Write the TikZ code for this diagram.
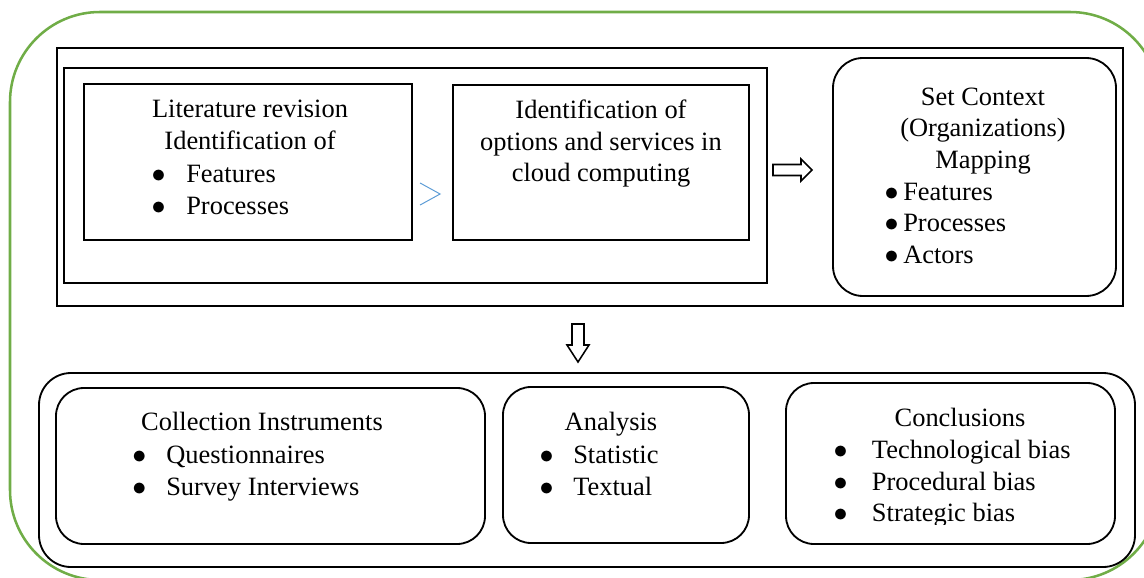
\documentclass[tikz,border=0pt]{standalone}
\usepackage{fontspec}
\setmainfont{Liberation Serif}
\usepackage{tikz}
\usetikzlibrary{fit,calc}

\newlength{\pix}
\setlength{\pix}{0.025cm}
\definecolor{framegreen}{HTML}{70AD47}
\definecolor{linkblue}{HTML}{5B9BD5}
\newcommand{\bul}[1]{\makebox[#1\pix][l]{\hspace{-1\pix}\scalebox{1.15}{$\bullet$}}}

\tikzset{
  frame/.style={draw, line width=1.3pt, inner sep=0pt},
  roundframe/.style={frame, rounded corners=30\pix},
  greenframe/.style={draw=framegreen, line width=1.8pt, inner sep=0pt, rounded corners=90\pix},
  txt/.style={font=\fontsize{18.8}{22.5}\selectfont, inner sep=0pt, anchor=base, align=center},
  items/.style={txt, anchor=base west, align=left},
  blockarrow/.style={draw, line width=1.1pt, line join=miter}
}

\begin{document}
\begin{tikzpicture}[x=0.025cm, y=-0.025cm]
% The canvas
\useasboundingbox (0,0) rectangle (1144,578);
\clip (0,0) rectangle (1144,578);

% The green outline
\node[greenframe, fit={(10,12) (1160,580)}] (outline) {};

% The upper block
\node[frame, fit={(57,48) (1123,306)}] (upper) {};
\node[frame, fit={(64,68) (767,283)}] (review) {};
\node[frame, fit={(84,84) (412,240)}] (lit) {};
\node[frame, fit={(453,85) (749,240)}] (opt) {};
\node[roundframe, fit={(833,58) (1116,296)}] (ctx) {};

% (base = last line)
\node[txt] (lit-title) at (250,149) {Literature revision\\Identification of};
\node[items] (lit-list) at (152.4,214) {\bul{33.6}Features\\\bul{33.6}Processes};
\node[txt] (opt-title) at (601,181.7) {Identification of\\options and services in\\cloud computing};
\node[txt] (ctx-title) at (983,168.3) {Set Context\\(Organizations)\\Mapping};
\node[items] (ctx-list) at (885.4,263.3) {\bul{17.6}Features\\\bul{17.6}Processes\\\bul{17.6}Actors};

% The arrows
\draw[linkblue, line width=0.7pt] ($(opt.west)+(-32,20.5)$) -- ($(opt.west)+(-12,31.5)$) -- ($(opt.west)+(-32,42.5)$);
\coordinate (to-ctx) at (773,170);
\draw[blockarrow] (to-ctx) ++(0,-5.5) -- ++(28,0) -- ++(0,-5.5) -- ++(11,11) -- ++(-11,11) -- ++(0,-5.5) -- ++(-28,0) -- cycle;
\coordinate (to-lower) at (578,324);
\draw[blockarrow] (to-lower) ++(-6,0) -- ++(12,0) -- ++(0,21) -- ++(5,0) -- ++(-11,17) -- ++(-11,-17) -- ++(5,0) -- cycle;

% The lower block
\node[roundframe, rounded corners=32\pix, fit={(39,373) (1135,567)}] (lower) {};
\node[roundframe, rounded corners=28\pix, fit={(56,388) (485,544)}] (collect) {};
\node[roundframe, rounded corners=28\pix, fit={(503,387) (749,543)}] (analysis) {};
\node[roundframe, rounded corners=28\pix, fit={(786,383) (1115,544)}] (concl) {};

\node[txt] (collect-title) at (262,430) {Collection Instruments};
\node[items] (collect-list) at (133,495) {\bul{33}Questionnaires\\\bul{33}Survey Interviews};
\node[txt] (analysis-title) at (611,430) {Analysis};
\node[items] (analysis-list) at (540.4,495) {\bul{32.6}Statistic\\\bul{32.6}Textual};
\node[txt] (concl-title) at (960,426.7) {Conclusions};
\begin{scope}
\clip (786,383) rectangle (1115,524);
\node[items] (concl-list) at (834.4,521.7) {\bul{37.3}Technological bias\\\bul{37.3}Procedural bias\\\bul{37.3}Strategic bias};
\end{scope}
\end{tikzpicture}
\end{document}
